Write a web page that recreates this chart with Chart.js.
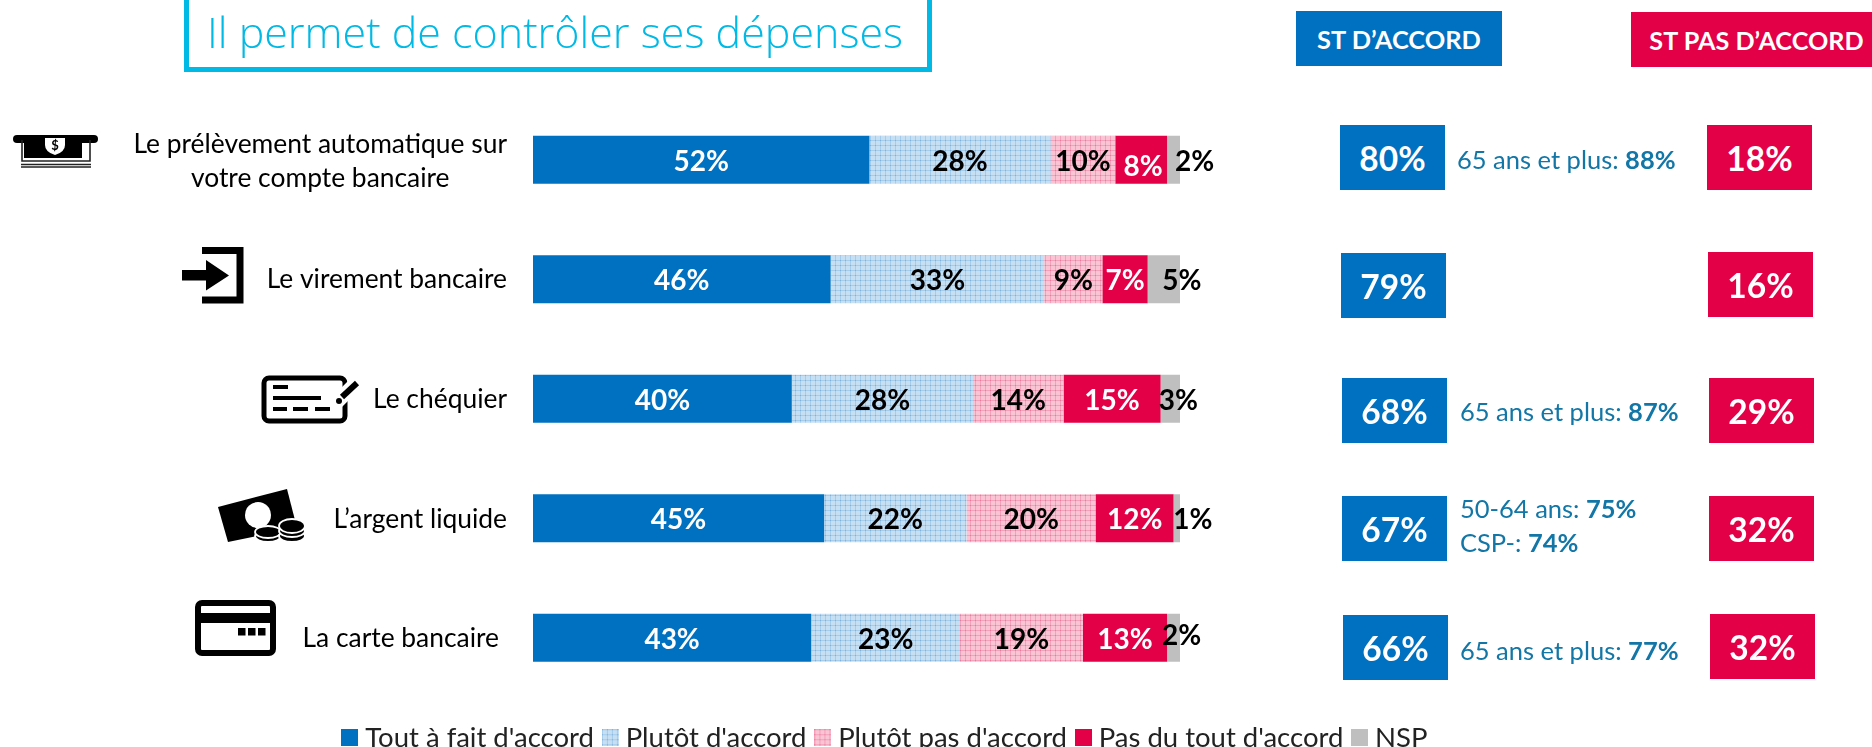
<!DOCTYPE html>
<html lang="fr">
<head>
<meta charset="utf-8">
<title>Il permet de contrôler ses dépenses</title>
<script src="https://cdn.jsdelivr.net/npm/chart.js@4/dist/chart.umd.min.js"></script>
<style>
  html, body { margin: 0; padding: 0; background: #fff; overflow: hidden; }
  body { position: relative; width: 1872px; height: 747px; font-family: Lato, sans-serif; }
  #chart { position: absolute; left: 0; top: 0; }
  #icons { position: absolute; left: 0; top: 0; }
  .title {
    position: absolute; left: 184px; top: -6px; width: 738px; height: 68px;
    border: 5px solid #00B9E4; color: #00B9E4; font-family: "Open Sans", sans-serif; font-weight: 300; font-size: 43px;
    line-height: 66px; text-align: center; white-space: nowrap; text-indent: -6px;
  }
  .box {
    position: absolute; display: flex; align-items: center; justify-content: center;
    color: #fff; font-weight: 700; white-space: nowrap; box-sizing: border-box;
  }
  .callout { position: absolute; color: #1276A6; font-size: 25.5px; line-height: 34px; white-space: nowrap; }
</style>
</head>
<body>
<canvas id="chart" width="1872" height="747"></canvas>
<svg id="icons" width="1872" height="747" viewBox="0 0 1872 747">
  <!-- prelevement -->
  <rect x="13" y="135" width="85" height="8" rx="4" fill="#000"/>
  <rect x="24" y="140" width="58" height="18" fill="#000"/>
  <path d="M45 138h20v7q0 7-10 10q-10-3-10-10z" fill="#fff"/>
  <text x="55" y="150" font-family="Lato" font-weight="700" font-size="13" text-anchor="middle" fill="#000">$</text>
  <path d="M22 140v21h68v-21M21 164.500h70M21 167h70" fill="none" stroke="#222" stroke-width="1.600"/>
  <!-- virement -->
  <path d="M202 250.500h38v49.500h-38" fill="none" stroke="#000" stroke-width="7"/>
  <path d="M182 270h24v-10l23 15.500l-23 15v-10h-24z" fill="#000"/>
  <!-- chequier -->
  <rect x="264" y="378" width="81" height="43" rx="5" fill="none" stroke="#000" stroke-width="5"/>
  <path d="M273 387h15M273 398h48" stroke="#000" stroke-width="4"/>
  <path d="M273 409h14M293 409h15M315 409h15" stroke="#000" stroke-width="4"/>
  <path d="M335 404l22-22" stroke="#fff" stroke-width="14"/>
  <path d="M342 397l15-14" stroke="#000" stroke-width="6"/>
  <circle cx="339" cy="401" r="3" fill="#000"/>
  <!-- argent -->
  <path d="M218 507L287 489L297 528L228 542z" fill="#000"/>
  <circle cx="258" cy="515" r="13" fill="#fff"/>
  <g fill="#000" stroke="#fff" stroke-width="1.800">
    <ellipse cx="268" cy="536" rx="13" ry="6"/>
    <ellipse cx="268" cy="532" rx="13" ry="6"/>
    <ellipse cx="292" cy="536" rx="13" ry="6"/>
    <ellipse cx="292" cy="531" rx="13" ry="6"/>
    <ellipse cx="292" cy="526" rx="13" ry="7"/>
  </g>
  <!-- carte -->
  <rect x="198" y="603" width="75" height="50" rx="4" fill="none" stroke="#000" stroke-width="6"/>
  <rect x="198" y="613" width="75" height="10" fill="#000"/>
  <path d="M238 628h7.500v7.500h-7.500zM248 628h7.500v7.500h-7.500zM258 628h7.500v7.500h-7.500z" fill="#000"/>
</svg>
<script>
// Data
const categories = [
  ["Le prélèvement automatique sur", "votre compte bancaire"],
  ["Le virement bancaire"],
  ["Le chéquier"],
  ["L’argent liquide"],
  ["La carte bancaire"],
];
const seriesNames = ["Tout à fait d'accord", "Plutôt d'accord", "Plutôt pas d'accord", "Pas du tout d'accord", "NSP"];
const toutAFait = [52, 46, 40, 45, 43];
const plutot = [28, 33, 28, 22, 23];
const plutotPas = [10, 9, 14, 20, 19];
const pasDuTout = [8, 7, 15, 12, 13];
const nsp = [2, 5, 3, 1, 2];
const stAccord = [80, 79, 68, 67, 66];
const stPasAccord = [18, 16, 29, 32, 32];
const callouts = [
  [["65 ans et plus: ", "88%"]],
  [],
  [["65 ans et plus: ", "87%"]],
  [["50-64 ans: ", "75%"], ["CSP-: ", "74%"]],
  [["65 ans et plus: ", "77%"]],
];

const BLUE = "#0070C0";
const RED = "#E40046";
const GREY = "#BFBFBF";

// dotted fill like the excel pattern
function makePattern(base, line, dot) {
  const c = document.createElement("canvas");
  c.width = 5;
  c.height = 5;
  const p = c.getContext("2d");
  p.fillStyle = base;
  p.fillRect(0, 0, 5, 5);
  p.fillStyle = line;
  p.fillRect(0, 0, 1, 5);
  p.fillRect(0, 0, 5, 1);
  p.fillStyle = dot;
  p.fillRect(0, 0, 1, 1);
  return p.createPattern(c, "repeat");
}

const ctx = document.getElementById("chart").getContext("2d");
const bluePattern = makePattern("#C6DFF3", "#A5CCEA", "#7FB3DF");
const pinkPattern = makePattern("#F9C5D5", "#F4A0BA", "#EC7A9E");
const seriesFills = [BLUE, bluePattern, pinkPattern, RED, GREY];

// legend swatches are images so the text can sit closer than chart.js would put it
const swatches = seriesFills.map((fill) => {
  const c = document.createElement("canvas");
  c.width = 17;
  c.height = 17;
  const p = c.getContext("2d");
  p.fillStyle = fill;
  p.fillRect(0, 0, 17, 17);
  return c;
});

const FONT = "Lato, sans-serif";
const labelColors = ["#fff", "#000", "#000", "#fff", "#000"];

// nudges for the labels that do not sit centred on their segment: "row-series": [dx, dy]
const labelNudge = {
  "0-3": [2, 5],
  "0-4": [21, 0],
  "1-4": [18, 0],
  "2-4": [8, 0],
  "3-4": [16, 0],
  "4-4": [8, -4],
};
const categoryNudge = [[0, 3], [0, 1.5], [0, 2], [0, 2], [-8, 2]];

// percent labels inside the bars
const valueLabels = {
  id: "valueLabels",
  afterDatasetsDraw(chart) {
    const c = chart.ctx;
    c.save();
    c.font = "700 28px " + FONT;
    c.textAlign = "center";
    c.textBaseline = "middle";
    chart.data.datasets.forEach((ds, i) => {
      chart.getDatasetMeta(i).data.forEach((bar, row) => {
        const n = labelNudge[row + "-" + i] || [0, 0];
        c.fillStyle = labelColors[i];
        c.fillText(ds.data[row] + "%", bar.getCenterPoint().x + n[0], bar.y + 2 + n[1]);
      });
    });
    c.restore();
  },
};

// category labels: right edge lines up, lines centred on each other
const categoryLabels = {
  id: "categoryLabels",
  afterDraw(chart) {
    const c = chart.ctx;
    const yScale = chart.scales.y;
    c.save();
    c.font = "400 26.4px " + FONT;
    c.fillStyle = "#000";
    c.textAlign = "center";
    c.textBaseline = "middle";
    categories.forEach((lines, row) => {
      const widest = Math.max(...lines.map((l) => c.measureText(l).width));
      const x = yScale.right - 26 + categoryNudge[row][0] - widest / 2;
      const y = yScale.getPixelForValue(row) - 1 + categoryNudge[row][1];
      lines.forEach((l, k) => {
        c.fillText(l, x, y + (k - (lines.length - 1) / 2) * 34);
      });
    });
    c.restore();
  },
};

// legend is centred under the whole left part, not under the plot
const moveLegend = {
  id: "moveLegend",
  afterLayout(chart) {
    const l = chart.legend;
    l.left = 0;
    l.right = 1776;
    l.top = 709;
    l.bottom = 747;
  },
};

new Chart(ctx, {
  type: "bar",
  data: {
    labels: categories,
    datasets: [
      { label: seriesNames[0], data: toutAFait, backgroundColor: seriesFills[0] },
      { label: seriesNames[1], data: plutot, backgroundColor: seriesFills[1] },
      { label: seriesNames[2], data: plutotPas, backgroundColor: seriesFills[2] },
      { label: seriesNames[3], data: pasDuTout, backgroundColor: seriesFills[3] },
      { label: seriesNames[4], data: nsp, backgroundColor: seriesFills[4] },
    ],
  },
  options: {
    indexAxis: "y",
    responsive: false,
    animation: false,
    // negative bottom: the legend box is tall because of its padding, it gets moved afterwards anyway
    layout: { padding: { top: 100, right: 692, bottom: -3, left: 0 } },
    datasets: { bar: { categoryPercentage: 0.4, barPercentage: 1 } },
    scales: {
      x: { stacked: true, min: 0, max: 100, display: false },
      y: {
        stacked: true,
        grid: { display: false },
        border: { display: false },
        ticks: { display: false },
        afterFit(scale) {
          scale.width = 533;
        },
      },
    },
    plugins: {
      title: { display: false },
      tooltip: { enabled: false },
      legend: {
        position: "bottom",
        labels: {
          usePointStyle: true,
          pointStyleWidth: 3,
          padding: 15,
          color: "#222",
          font: { family: FONT, size: 27.5 },
          generateLabels(chart) {
            const items = Chart.defaults.plugins.legend.labels.generateLabels(chart);
            items.forEach((item, i) => {
              item.pointStyle = swatches[i];
            });
            return items;
          },
        },
      },
    },
  },
  plugins: [valueLabels, categoryLabels, moveLegend],
});

// --- the parts around the chart: title, ST headers, ST boxes, callouts
function addBox(text, color, x, y, w, h, size, shift) {
  const d = document.createElement("div");
  d.className = "box";
  d.textContent = text;
  d.style.cssText = `left:${x}px;top:${y}px;width:${w}px;height:${h}px;background:${color};font-size:${size}px;padding-left:${shift || 0}px`;
  document.body.appendChild(d);
}

const title = document.createElement("div");
title.className = "title";
title.textContent = "Il permet de contrôler ses dépenses";
document.body.appendChild(title);

addBox("ST D’ACCORD", BLUE, 1296, 11, 206, 55, 25.4);
addBox("ST PAS D’ACCORD", RED, 1631, 12, 241, 55, 25.2, 10);

const agreeSpots = [[1340, 125], [1341, 253], [1342, 378], [1342, 496], [1343, 615]];
const disagreeSpots = [[1707, 125], [1708, 252], [1709, 378], [1709, 496], [1710, 614]];
stAccord.forEach((v, i) => addBox(v + "%", BLUE, agreeSpots[i][0], agreeSpots[i][1], 105, 65, 33.5));
stPasAccord.forEach((v, i) => addBox(v + "%", RED, disagreeSpots[i][0], disagreeSpots[i][1], 105, 65, 33.5));

const calloutSpots = [[1457, 142], null, [1460, 394], [1460, 491], [1460, 633]];
callouts.forEach((lines, i) => {
  lines.forEach((parts, k) => {
    const d = document.createElement("div");
    d.className = "callout";
    d.style.left = calloutSpots[i][0] + "px";
    d.style.top = calloutSpots[i][1] + k * 34 + "px";
    d.append(parts[0]);
    const b = document.createElement("b");
    b.textContent = parts[1];
    d.appendChild(b);
    document.body.appendChild(d);
  });
});
</script>
</body>
</html>
